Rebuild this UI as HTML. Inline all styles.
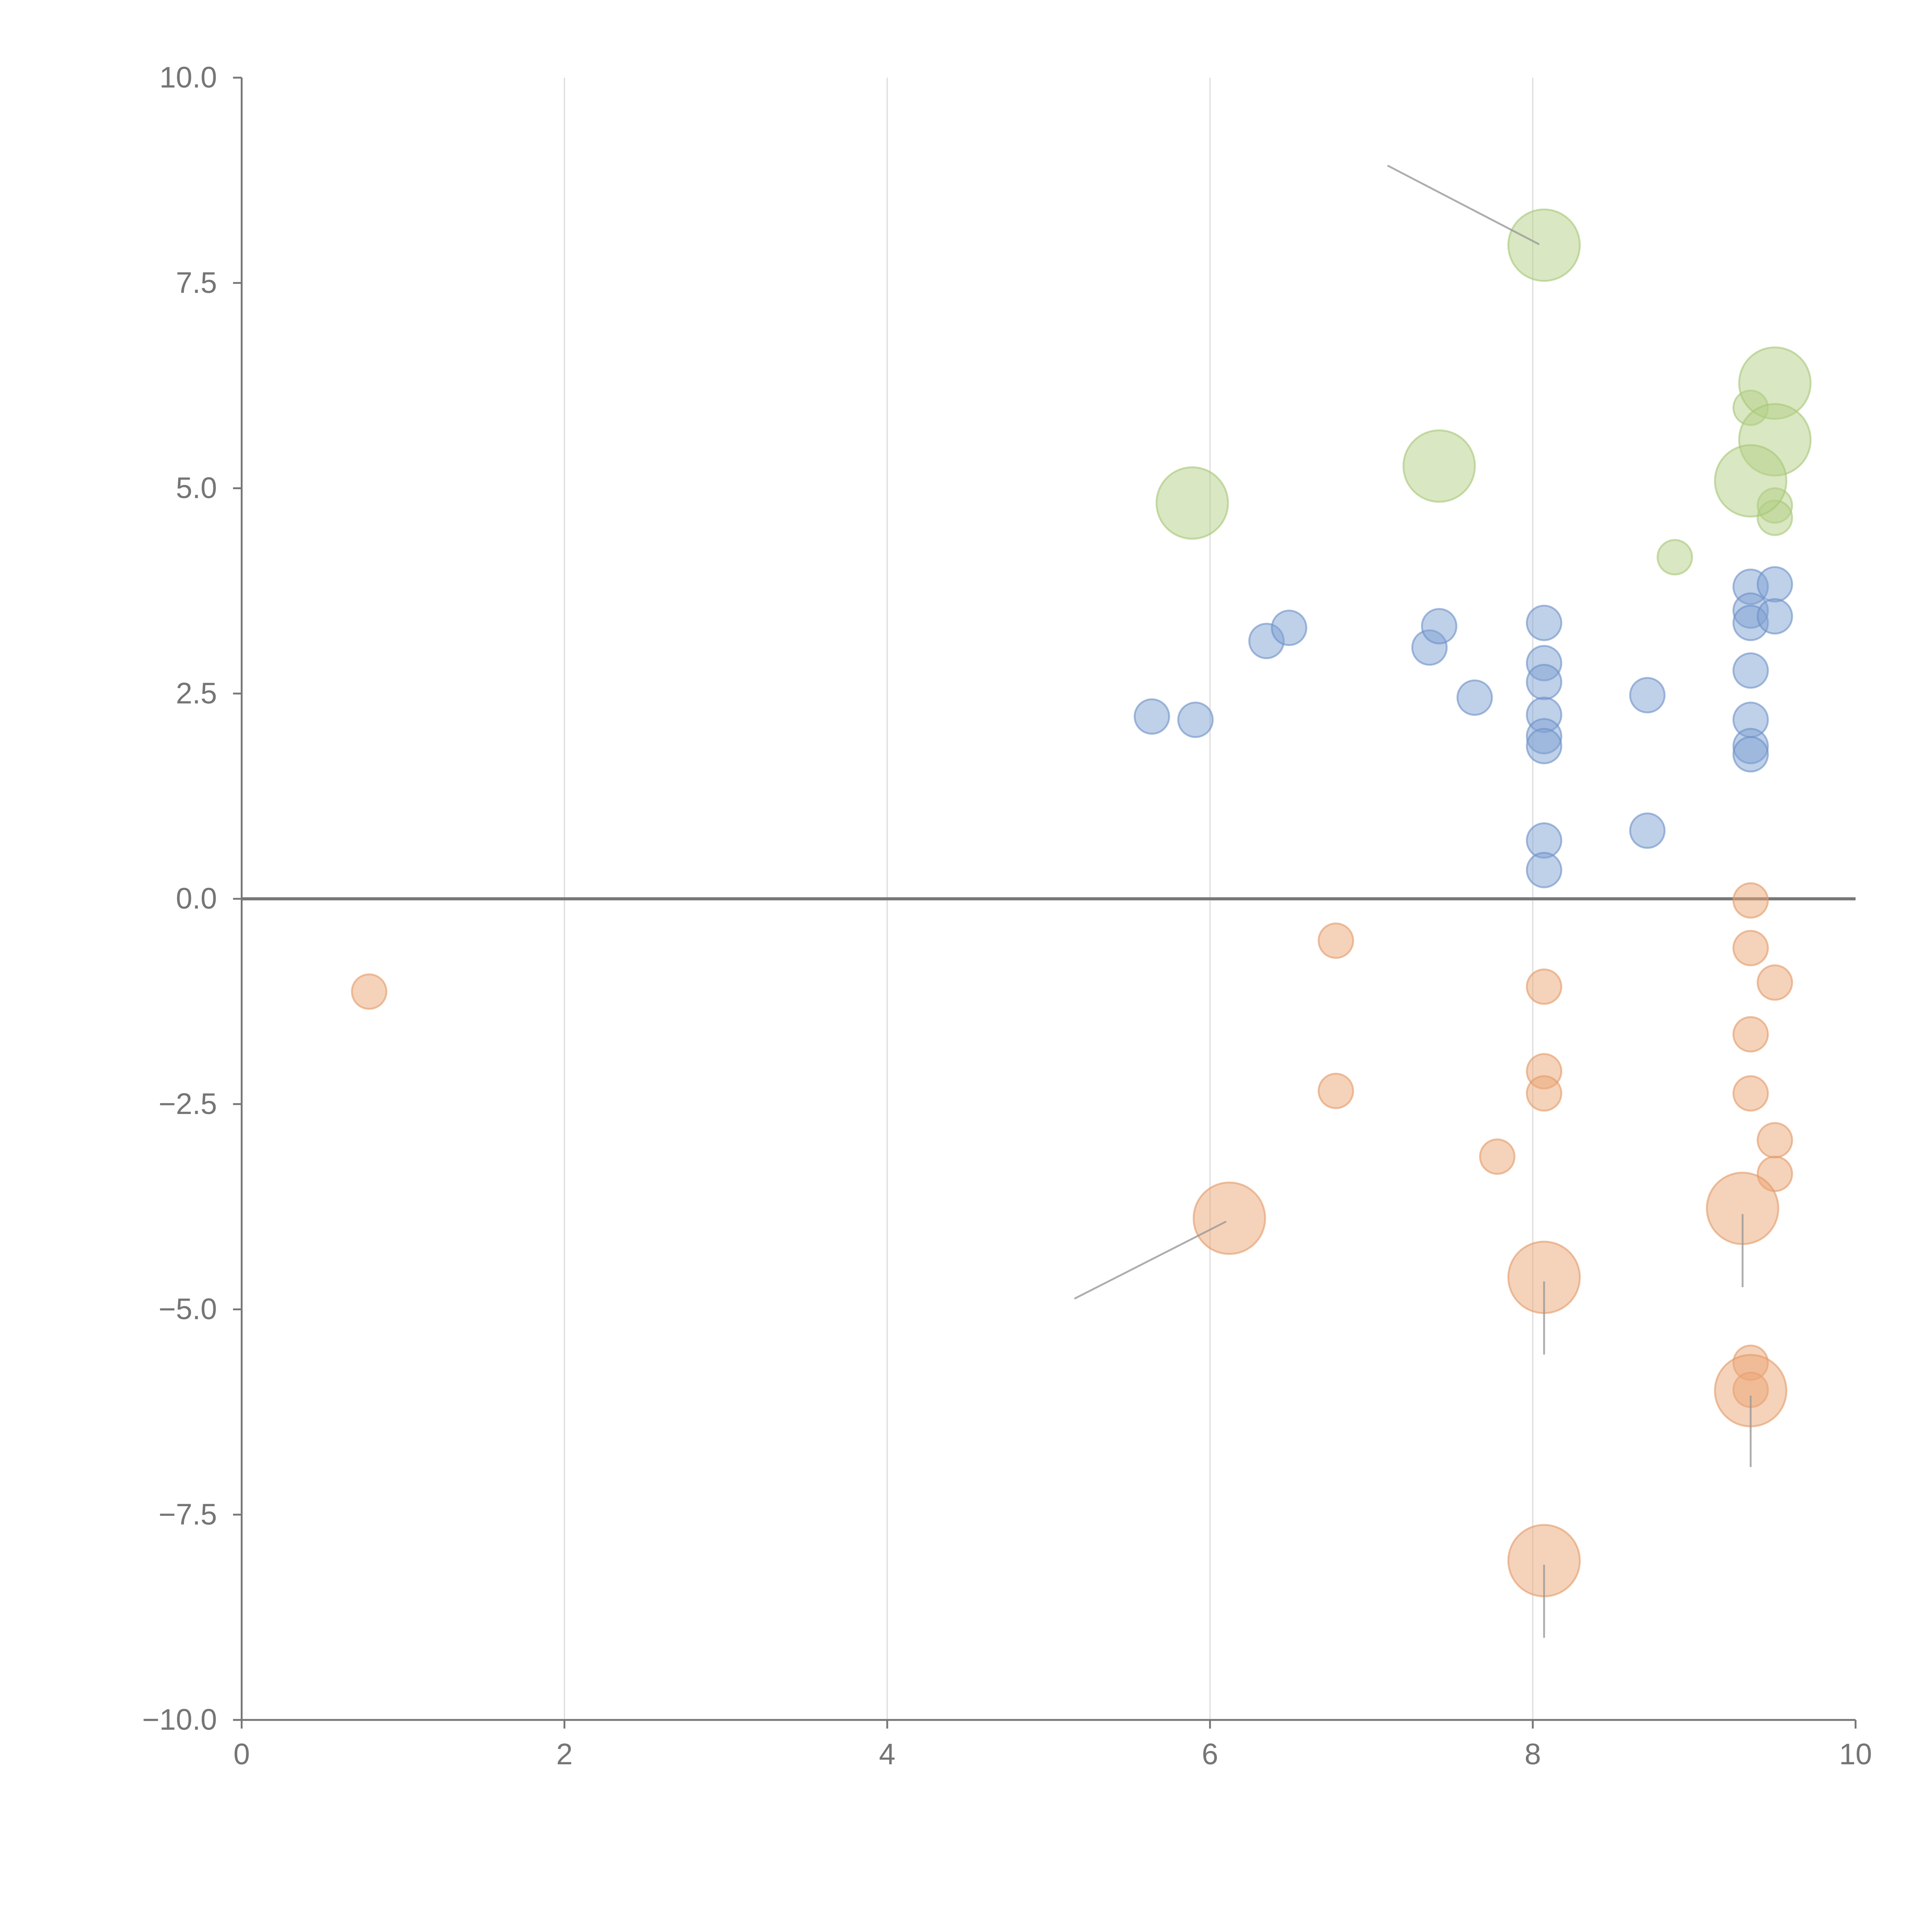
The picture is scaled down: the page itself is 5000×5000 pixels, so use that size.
<!DOCTYPE html>
<html><head><meta charset="utf-8"><style>
html,body{margin:0;padding:0;background:#fff;}
svg{display:block;}
text{font-family:"Liberation Sans",Arial,sans-serif;fill:#757575;}
</style></head><body>
<svg id="chart" width="5000" height="5000" viewBox="0 0 1567 1567" xmlns="http://www.w3.org/2000/svg">
<g id="grid"></g>
<g id="axes"></g>
<g id="marks"></g>
<g id="leaders"></g>
</svg>
<script>
const xTicks=[0,2,4,6,8,10];
const yTicks=[10,7.5,5,2.5,0,-2.5,-5,-7.5,-10];
const yTickLabels=["10.0","7.5","5.0","2.5","0.0","\u22122.5","\u22125.0","\u22127.5","\u221210.0"];
const blueX=[5.64,5.91,6.35,6.49,7.36,7.42,7.64,8.07,8.07,8.07,8.07,8.07,8.07,8.07,8.07,8.71,8.71,9.35,9.35,9.35,9.50,9.50,9.35,9.35,9.35,9.35];
const blueY=[2.22,2.18,3.14,3.30,3.06,3.32,2.45,3.36,2.87,2.64,2.24,1.98,1.86,0.71,0.35,2.48,0.83,3.80,3.51,3.36,3.83,3.44,2.78,2.18,1.86,1.76];
const orangeX=[0.79,6.78,6.78,7.78,8.07,8.07,8.07,9.35,9.35,9.35,9.35,9.35,9.35,9.50,9.50,9.50,6.12,8.07,8.07,9.30,9.35];
const orangeY=[-1.13,-0.51,-2.34,-3.14,-1.07,-2.10,-2.37,-0.02,-0.60,-1.65,-2.37,-5.65,-5.98,-1.02,-2.94,-3.35,-3.89,-4.61,-8.06,-3.77,-5.99];
const orangeBig=[0,0,0,0,0,0,0,0,0,0,0,0,0,0,0,0,1,1,1,1,1];
const greenX=[8.88,9.35,9.50,9.50,8.07,7.42,5.89,9.50,9.50,9.35];
const greenY=[4.16,5.98,4.79,4.64,7.96,5.27,4.82,6.28,5.59,5.09];
const greenBig=[0,0,0,0,1,1,1,1,1,1];
const leaderX1=[7.10,5.16,9.30,8.07,9.35,8.07];
const leaderY1=[8.93,-4.87,-3.84,-4.66,-6.05,-8.11];
const leaderX2=[8.04,6.10,9.30,8.07,9.35,8.07];
const leaderY2=[7.97,-3.93,-4.73,-5.55,-6.92,-9.00];

const X0=196,X1=1505,Y0=1395,Y1=63;
const sx=v=>X0+(v-0)/(10-0)*(X1-X0);
const sy=v=>Y0-(v+10)/20*(Y0-Y1);
const NS="http://www.w3.org/2000/svg";
function mk(tag,attrs,parent){const e=document.createElementNS(NS,tag);for(const k in attrs)e.setAttribute(k,attrs[k]);parent.appendChild(e);return e;}
const grid=document.getElementById('grid'),axes=document.getElementById('axes'),marks=document.getElementById('marks'),leaders=document.getElementById('leaders');

xTicks.forEach(t=>{
  if(t>0&&t<10){const g=mk('line',{x1:sx(t),x2:sx(t),y1:Y1,y2:Y0,stroke:'#ddd','stroke-width':1},grid);
  
  }
  const tk=mk('line',{x1:sx(t),x2:sx(t),y1:Y0,y2:Y0+7,stroke:'#777','stroke-width':1.5},axes);
  
  
  const tx=mk('text',{x:sx(t),y:Y0+36,'font-size':24,'text-anchor':'middle'},axes);tx.textContent=t;
  
  
});
yTicks.forEach((t,i)=>{
  const tk=mk('line',{x1:X0-7,x2:X0,y1:sy(t),y2:sy(t),stroke:'#777','stroke-width':1.5},axes);
  
  
  const tx=mk('text',{x:X0-20,y:sy(t)+8,'font-size':24,'text-anchor':'end'},axes);tx.textContent=yTickLabels[i];
  
  
});
let a=mk('line',{x1:X0,x2:X0,y1:Y1,y2:Y0,stroke:'#777','stroke-width':1.5},axes);


a=mk('line',{x1:X0,x2:X1,y1:Y0,y2:Y0,stroke:'#777','stroke-width':1.5},axes);


a=mk('line',{x1:X0,x2:X1,y1:sy(0),y2:sy(0),stroke:'#777','stroke-width':2.5},axes);



function series(xs,ys,big,fill,stroke,name){
  xs.forEach((x,i)=>{
    const r=big&&big[i]?29:14;
    const c=mk('circle',{cx:sx(x),cy:sy(ys[i]),r:r,fill:fill,'fill-opacity':0.5,stroke:stroke,'stroke-opacity':0.6,'stroke-width':1.5},marks);
    
    
  });
}
series(blueX,blueY,null,'#7fa1d3','#6a8fc6','blue-bubble');
series(orangeX,orangeY,orangeBig,'#eba576','#e29a66','orange-bubble');
series(greenX,greenY,greenBig,'#b3d085','#a7c676','green-bubble');

leaderX1.forEach((x,i)=>{
  const l=mk('line',{x1:sx(x),y1:sy(leaderY1[i]),x2:sx(leaderX2[i]),y2:sy(leaderY2[i]),stroke:'#999','stroke-width':1.5,'stroke-opacity':0.8},leaders);
  
  
});
</script>
</body></html>
